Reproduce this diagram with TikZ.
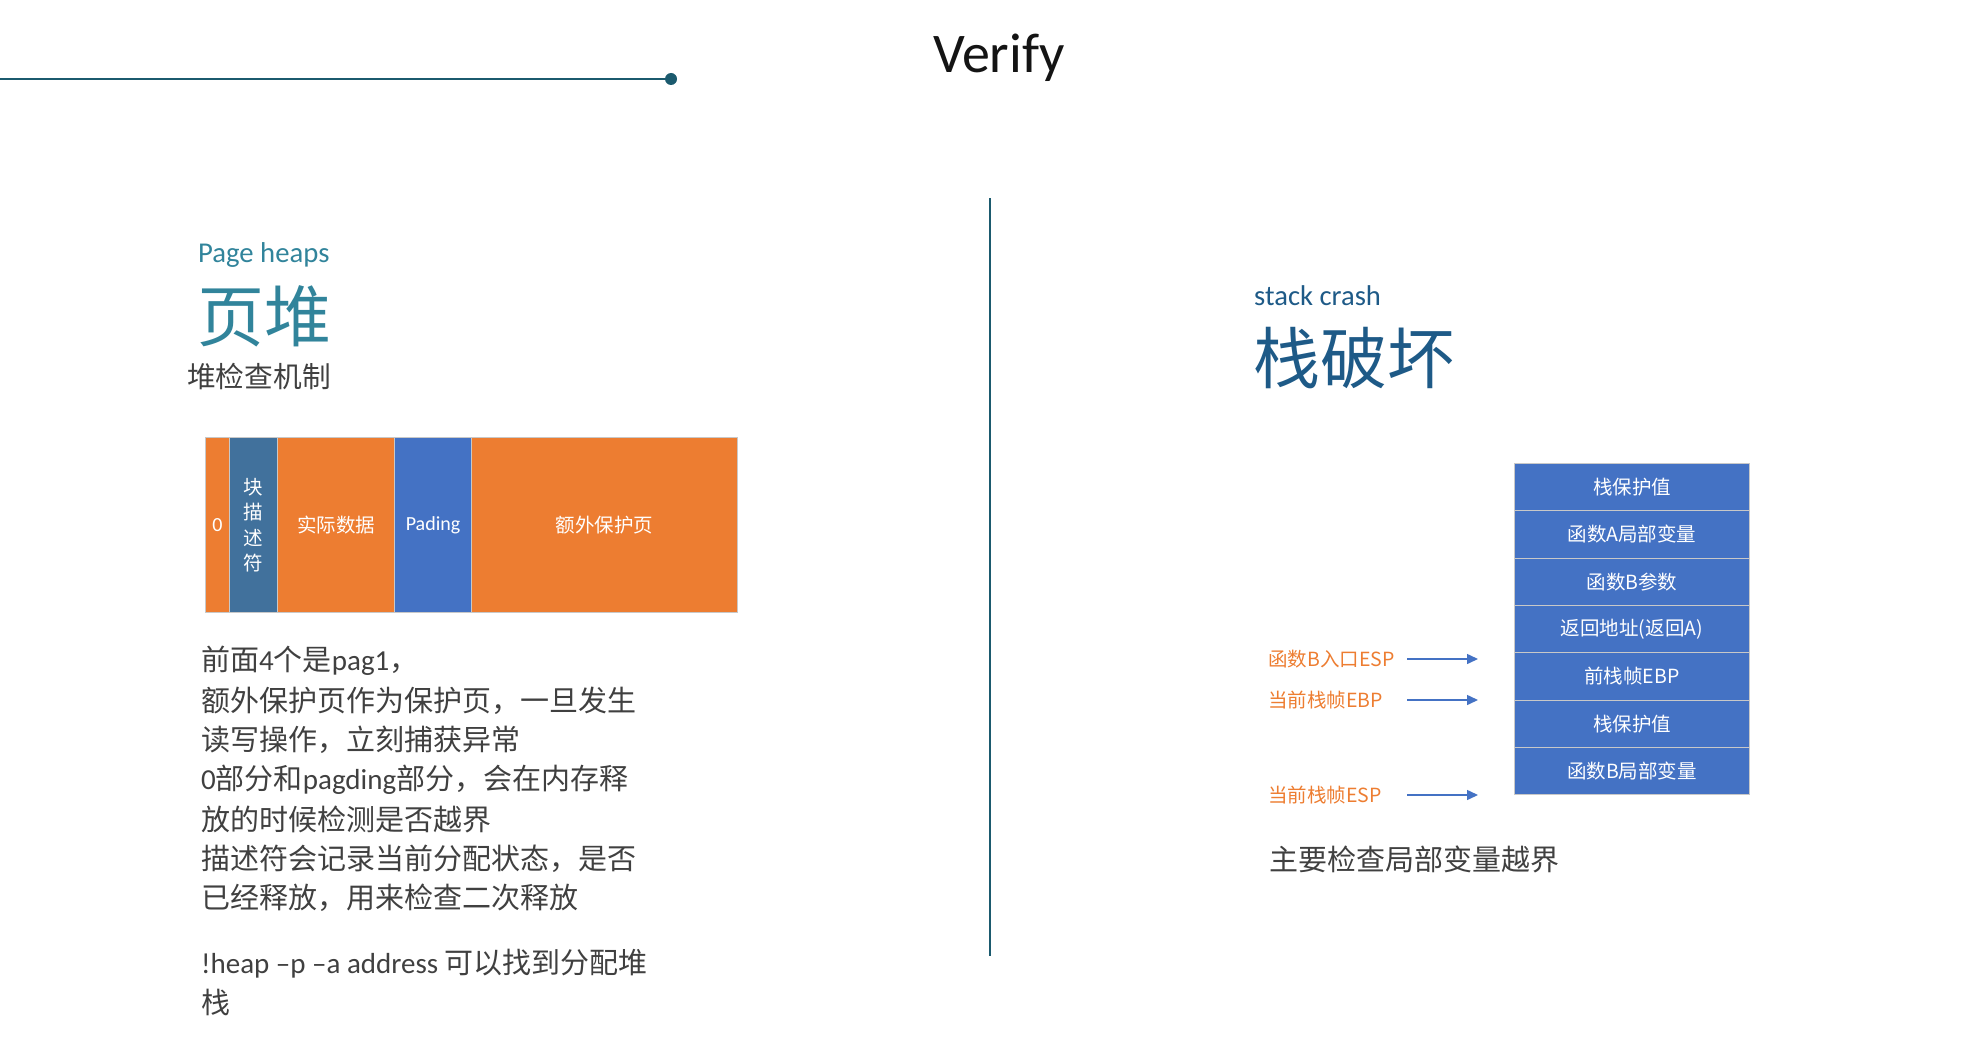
\documentclass[tikz,border=0pt]{standalone}
\usepackage{fontspec}
\setmainfont{Carlito}
\newfontfamily\cjk{Noto Sans CJK SC}
\usetikzlibrary{arrows.meta}
\definecolor{teal1}{HTML}{31849B}
\definecolor{navy1}{HTML}{1E5A87}
\definecolor{line1}{HTML}{1B5A6E}
\definecolor{org}{HTML}{ED7D31}
\definecolor{blu}{HTML}{4472C4}
\definecolor{steel}{HTML}{41719C}
\definecolor{txt}{HTML}{404040}
\definecolor{edge}{HTML}{C8C8C8}
\tikzset{
  x=1pt,y=-1pt,
  seg/.style={draw=edge,line width=1pt,inner sep=0pt,minimum height=175pt,anchor=north west,text=white,font=\cjk\fontsize{19.5}{22}\selectfont},
  row/.style={draw=edge,line width=1pt,fill=blu,inner sep=0pt,minimum width=235pt,minimum height=47.3pt,anchor=north west,text=white,font=\cjk\fontsize{19.5}{22}\selectfont},
  para/.style={anchor=west,inner sep=0pt,text=txt,font=\cjk\fontsize{29}{34}\selectfont},
  lbl/.style={anchor=west,inner sep=0pt,text=org,font=\cjk\fontsize{19.5}{22}\selectfont},
  arr/.style={draw=blu,line width=1.5pt,-{Triangle[length=11pt,width=10pt]}},
}
\begin{document}
\begin{tikzpicture}
\useasboundingbox (0,0) rectangle (1963,1038);
% header
\coordinate (hl) at (0,79);
\coordinate (hr) at (671,79);
\draw[line1,line width=1.1pt] (hl) -- (hr);
\fill[line1] (hr) circle (6pt);
\node[inner sep=0pt,font=\fontsize{56}{60}\selectfont,text=black!92] (title) at (999,58) {Verify};
% divider
\coordinate (vt) at (990,198);
\coordinate (vb) at (990,956);
\draw[line1,line width=1.1pt] (vt) -- (vb);
% left heading
\node[anchor=west,inner sep=0pt,text=teal1,font=\fontsize{28.7}{32}\selectfont] (ph) at (198,255) {Page heaps};
\node[anchor=west,inner sep=0pt,text=teal1,font=\cjk\fontsize{67}{72}\selectfont] (yd) at (197,316) {页堆};
\node[anchor=west,inner sep=0pt,text=txt,font=\cjk\fontsize{28.7}{32}\selectfont] (jc) at (187,377) {堆检查机制};
% heap bar
\node[seg,fill=org,minimum width=24pt,font=\fontsize{20}{22}\selectfont] (s0) at (205,437) {0};
\node[seg,fill=steel,minimum width=48pt,align=center,font=\cjk\fontsize{19.5}{25.5}\selectfont] (s1) at (229,437) {块\\描\\述\\符};
\node[seg,fill=org,minimum width=117pt] (s2) at (277,437) {实际数据};
\node[seg,fill=blu,minimum width=77pt,font=\fontsize{20}{22}\selectfont] (s3) at (394,437) {Pading};
\node[seg,fill=org,minimum width=266pt] (s4) at (471,437) {额外保护页};
% paragraph
\node[para] (p1) at (201,661) {前面{\rmfamily 4}个是{\rmfamily pag1}，};
\node[para] (p2) at (201,701) {额外保护页作为保护页，一旦发生};
\node[para] (p3) at (201,740) {读写操作，立刻捕获异常};
\node[para] (p4) at (201,780) {{\rmfamily 0}部分和{\rmfamily pagding}部分，会在内存释};
\node[para] (p5) at (201,819) {放的时候检测是否越界};
\node[para] (p6) at (201,859) {描述符会记录当前分配状态，是否};
\node[para] (p7) at (201,898) {已经释放，用来检查二次释放};
\node[para] (p8) at (201,964) {{\rmfamily !heap –p –a address} 可以找到分配堆};
\node[para] (p9) at (201,1002) {栈};
% right heading
\node[anchor=west,inner sep=0pt,text=navy1,font=\fontsize{28.6}{32}\selectfont] (sc) at (1254,296) {stack crash};
\node[anchor=west,inner sep=0pt,text=navy1,font=\cjk\fontsize{67}{72}\selectfont] (zp) at (1253,358) {栈破坏};
% stack
\node[row] (r1) at (1514,463) {栈保护值};
\node[row] (r2) at (1514,510.3) {函数A局部变量};
\node[row] (r3) at (1514,557.6) {函数B参数};
\node[row] (r4) at (1514,604.9) {返回地址(返回A)};
\node[row] (r5) at (1514,652.2) {前栈帧EBP};
\node[row] (r6) at (1514,699.5) {栈保护值};
\node[row] (r7) at (1514,746.8) {函数B局部变量};
% arrow labels
\node[lbl] (l1) at (1268,659) {函数B入口ESP};
\node[lbl] (l2) at (1268,700) {当前栈帧EBP};
\node[lbl] (l3) at (1268,795) {当前栈帧ESP};
\coordinate (a1s) at (1407,659);
\coordinate (a1e) at (1478,659);
\coordinate (a2s) at (1407,700);
\coordinate (a2e) at (1478,700);
\coordinate (a3s) at (1407,795);
\coordinate (a3e) at (1478,795);
\draw[arr] (a1s) -- (a1e);
\draw[arr] (a2s) -- (a2e);
\draw[arr] (a3s) -- (a3e);
\node[anchor=west,inner sep=0pt,text=txt,font=\cjk\fontsize{29}{32}\selectfont] (zy) at (1269,859) {主要检查局部变量越界};
\end{tikzpicture}
\end{document}
